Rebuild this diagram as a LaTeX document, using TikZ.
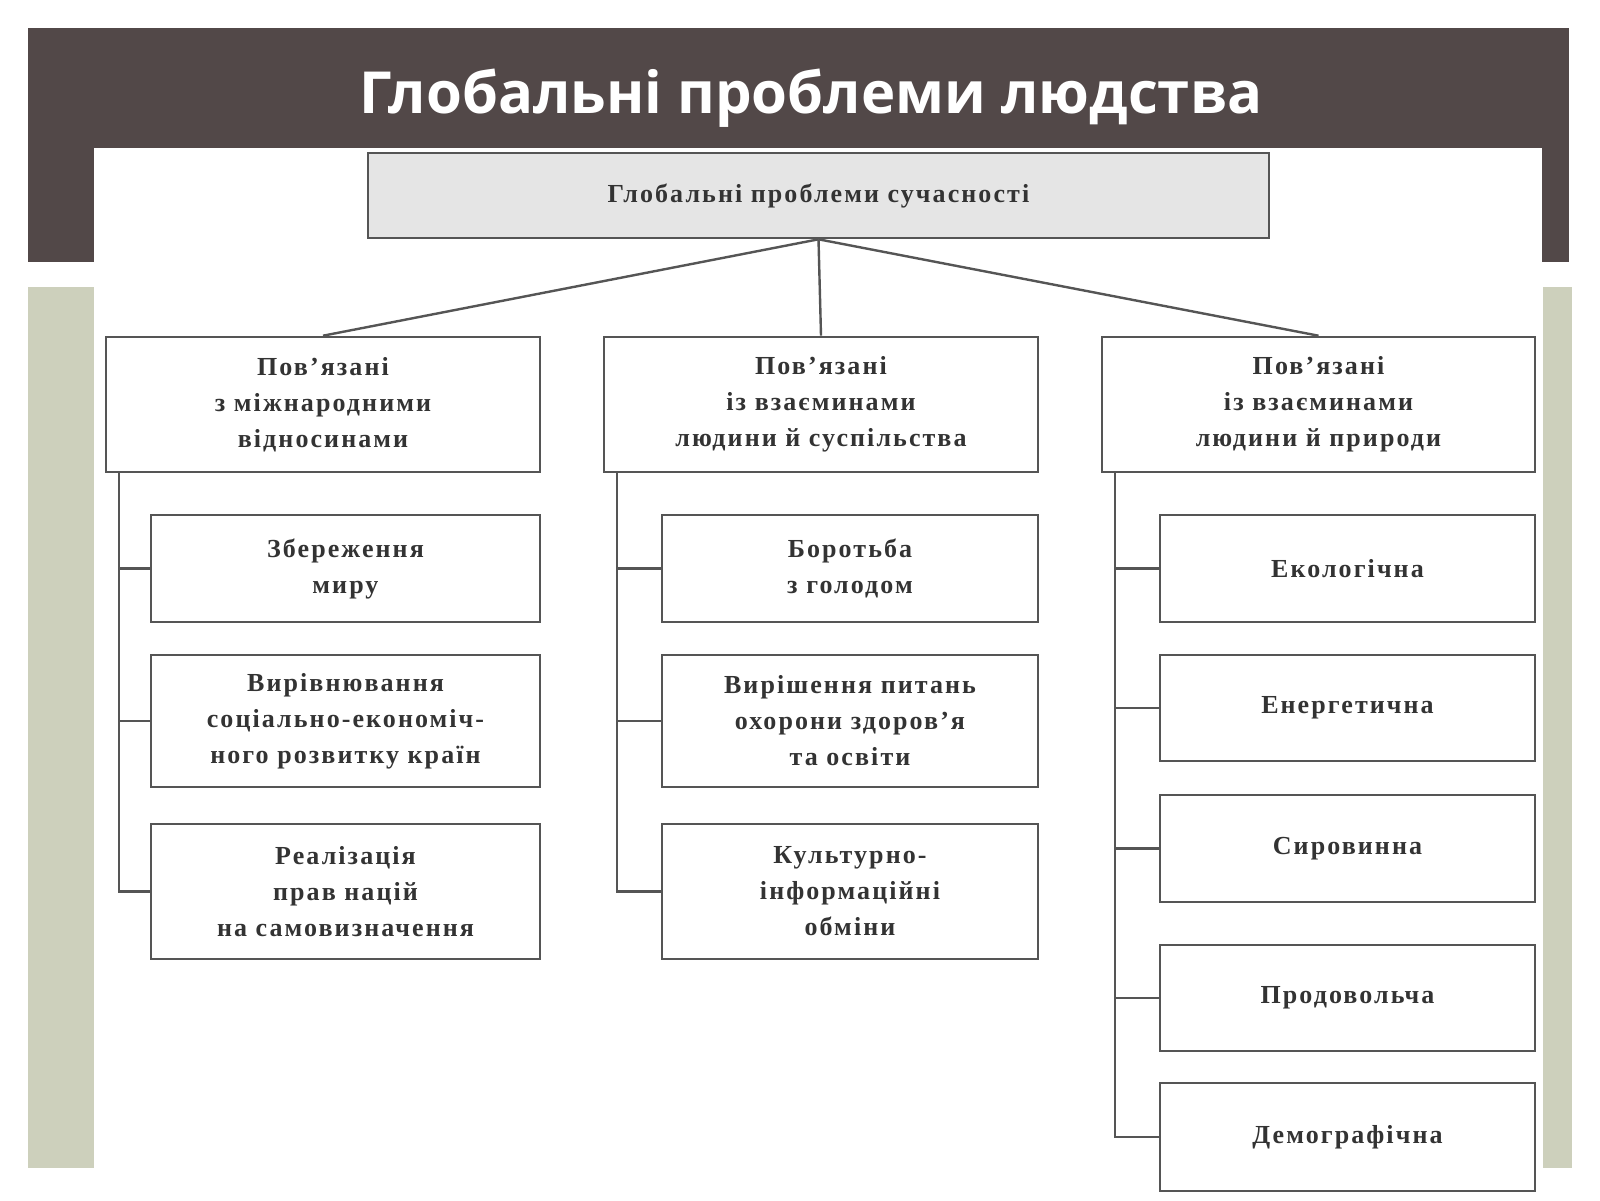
\documentclass[tikz,border=0pt]{standalone}
\usepackage{fontspec}
\setmainfont{Liberation Serif}
\newfontfamily\headfont{Open Sans}
\newfontfamily\boxfont[LetterSpace=8]{Liberation Serif}
\usetikzlibrary{positioning}
\definecolor{bandgray}{HTML}{524848}
\definecolor{sidegreen}{HTML}{CDD0BC}
\definecolor{boxline}{HTML}{555555}
\definecolor{txtgray}{HTML}{333333}
\tikzset{
  bx/.style 2 args={draw=boxline, line width=1.3pt, fill=white, align=center,
    font=\boxfont\fontsize{13}{18}\selectfont\bfseries, text=txtgray,
    minimum width=#1*0.5pt, minimum height=#2*0.5pt, inner sep=0pt},
  link/.style={draw=boxline, line width=1.2pt}
}
\begin{document}
\begin{tikzpicture}[x=0.5pt,y=-0.5pt]
  \useasboundingbox (0,0) rectangle (1600,1200);
  % background
  \fill[bandgray] (28,28) rectangle (1569,262);
  \fill[white] (94,148) rectangle (1542,262);
  \fill[sidegreen] (28,287) rectangle (94,1168);
  \fill[sidegreen] (1543,287) rectangle (1572,1168);
  \node[text=white, font=\headfont\bfseries\fontsize{29}{34}\selectfont] (title) at (811,98) {Глобальні проблеми людства};

  \node[bx={901}{85}, fill=black!10] (top) at (818.5,195.5) {Глобальні проблеми сучасності};

  \node[bx={434}{135}] (l) at (323,404.5) {Пов’язані\\з міжнародними\\відносинами};
  \node[bx={434}{135}] (m) at (821,404.5) {Пов’язані\\із взаєминами\\людини й суспільства};
  \node[bx={433}{135}] (r) at (1318.5,404.5) {Пов’язані\\із взаєминами\\людини й природи};

  \draw[link] (top.south) -- (l.north);
  \draw[link] (top.south) -- (m.north);
  \draw[link] (top.south) -- (r.north);

  \node[bx={389}{107}] (l1) at (345.5,568.5) {Збереження\\миру};
  \node[bx={389}{132}] (l2) at (345.5,721) {Вирівнювання\\соціально-економіч-\\ного розвитку країн};
  \node[bx={389}{135}] (l3) at (345.5,891.5) {Реалізація\\прав націй\\на самовизначення};

  \node[bx={376}{107}] (m1) at (850,568.5) {Боротьба\\з голодом};
  \node[bx={376}{132}] (m2) at (850,721) {Вирішення питань\\охорони здоров’я\\та освіти};
  \node[bx={376}{135}] (m3) at (850,891.5) {Культурно-\\інформаційні\\обміни};

  \node[bx={375}{107}] (r1) at (1347.5,568.5) {Екологічна};
  \node[bx={375}{106}] (r2) at (1347.5,708) {Енергетична};
  \node[bx={375}{107}] (r3) at (1347.5,848.5) {Сировинна};
  \node[bx={375}{106}] (r4) at (1347.5,998) {Продовольча};
  \node[bx={375}{108}] (r5) at (1347.5,1137) {Демографічна};

  \foreach \p/\c in {l/l1,l/l2,l/l3,m/m1,m/m2,m/m3,r/r1,r/r2,r/r3,r/r4,r/r5}
    \draw[link] ([xshift=7pt]\p.south west) |- (\c.west);
\end{tikzpicture}
\end{document}
